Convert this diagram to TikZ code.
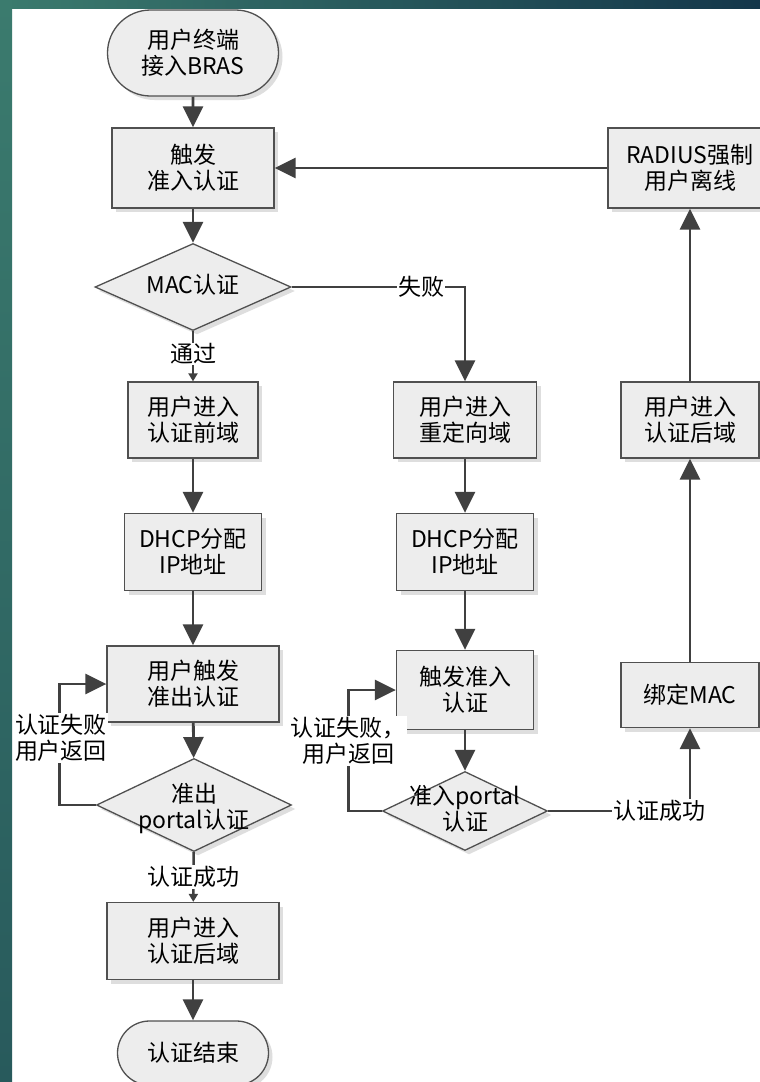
\documentclass[tikz,border=0pt]{standalone}
\usepackage{fontspec}
\setmainfont{Noto Sans CJK SC}
\usetikzlibrary{shapes.geometric,shapes.misc,arrows.meta,shadows}
\definecolor{tealA}{HTML}{3B7B6E}
\definecolor{tealB}{HTML}{285A5C}
\definecolor{navyA}{HTML}{14364A}
\definecolor{lnc}{HTML}{404040}
\definecolor{boxf}{HTML}{EDEDED}
\definecolor{boxd}{HTML}{505050}
\begin{document}
\begin{tikzpicture}[x=1pt,y=-1pt,
  font=\fontsize{23pt}{26pt}\selectfont,
  shd/.style={drop shadow={shadow xshift=4pt,shadow yshift=-4pt,fill=black!13,opacity=1}},
  proc/.style 2 args={draw=boxd,line width=1.3pt,fill=boxf,shd,align=center,inner sep=0pt,
    minimum width=#1 pt,minimum height=#2 pt},
  term/.style 2 args={rounded rectangle,draw=boxd,line width=1.3pt,fill=boxf,shd,align=center,inner sep=0pt,
    minimum width=#1 pt,minimum height=#2 pt},
  dia/.style 2 args={diamond,draw=boxd,line width=1.3pt,fill=boxf,shd,inner sep=0pt,
    minimum width=#1 pt,minimum height=#2 pt},
  dtxt/.style={align=center,inner sep=0pt},
  arr/.style={draw=lnc,line width=2.8pt,-{Triangle[length=21pt,width=20pt]}},
  arrs/.style={draw=lnc,line width=2.4pt,-{Triangle[length=8pt,width=9pt]}},
  lbl/.style={fill=white,align=center,inner sep=1pt}
]
\useasboundingbox (0,0) rectangle (760,1082);
\fill[white] (0,0) rectangle (760,1082);
\shade[left color=tealA,right color=navyA] (0,0) rectangle (760,8);
\shade[top color=tealA,bottom color=tealB] (0,0) rectangle (12,1082);

% left column
\node[term={171}{86}] (start) at (193,53) {用户终端\\接入BRAS};
\node[proc={162}{80}] (b1) at (193,168) {触发\\准入认证};
\node[dia={196}{87}] (d1) at (193,287) {};
\node[dtxt] (d1t) at (193,285) {MAC认证};
\node[proc={130}{76}] (b2) at (193,420) {用户进入\\认证前域};
\node[proc={137}{77}] (b3) at (193,552) {DHCP分配\\IP地址};
\node[proc={172}{76}] (b4) at (193,684) {用户触发\\准出认证};
\node[dia={195}{93}] (d2) at (194,805) {};
\node[dtxt] (d2t) at (194,808) {准出\\portal认证};
\node[proc={172}{77}] (b5) at (193,941) {用户进入\\认证后域};
\node[term={151}{64}] (fin) at (193,1053) {认证结束};

% middle column
\node[proc={143}{76}] (b6) at (465,420) {用户进入\\重定向域};
\node[proc={137}{77}] (b7) at (465,552) {DHCP分配\\IP地址};
\node[proc={137}{79}] (b8) at (465,690) {触发准入\\认证};
\node[dia={165}{79}] (d3) at (465,811) {};
\node[dtxt] (d3t) at (465,809) {准入portal\\认证};

% right column
\node[proc={164}{80}] (b9) at (690,168) {RADIUS强制\\用户离线};
\node[proc={138}{76}] (b10) at (690,420) {用户进入\\认证后域};
\node[proc={138}{65}] (b11) at (690,695) {绑定MAC};

% connectors
\draw[arr] (start) -- (b1);
\draw[arr] (b1) -- (d1);
\draw[arrs] (d1) -- (b2);
\node[lbl] (l1) at (193,354) {通过};
\draw[arr] (b2) -- (b3);
\draw[arr] (b3) -- (b4);
\draw[arr] (b4) -- (d2);
\draw[arrs] (d2) -- (b5);
\node[lbl] (l2) at (193,877) {认证成功};
\draw[arr] (b5) -- (fin);

\draw[arr] (d1.east) -| (b6.north);
\node[lbl] (l3) at (421,287) {失败};
\draw[arr] (b6) -- (b7);
\draw[arr] (b7) -- (b8);
\draw[arr] (b8) -- (d3);
\draw[arr] (d3.east) -| (b11.south);
\node[lbl] (l4) at (659,811) {认证成功};

\draw[arr] (b11) -- (b10);
\draw[arr] (b10) -- (b9);
\draw[arr] (b9) -- (b1);

\draw[arr] (d2.west) -- ++(-36,0) |- (b4.west);
\node[lbl] (l5) at (61,738) {认证失败\\用户返回};
\draw[arr] (d3.west) -- ++(-33,0) |- (b8.west);
\node[lbl] (l6) at (348,741) {认证失败，\\用户返回};
\end{tikzpicture}
\end{document}
